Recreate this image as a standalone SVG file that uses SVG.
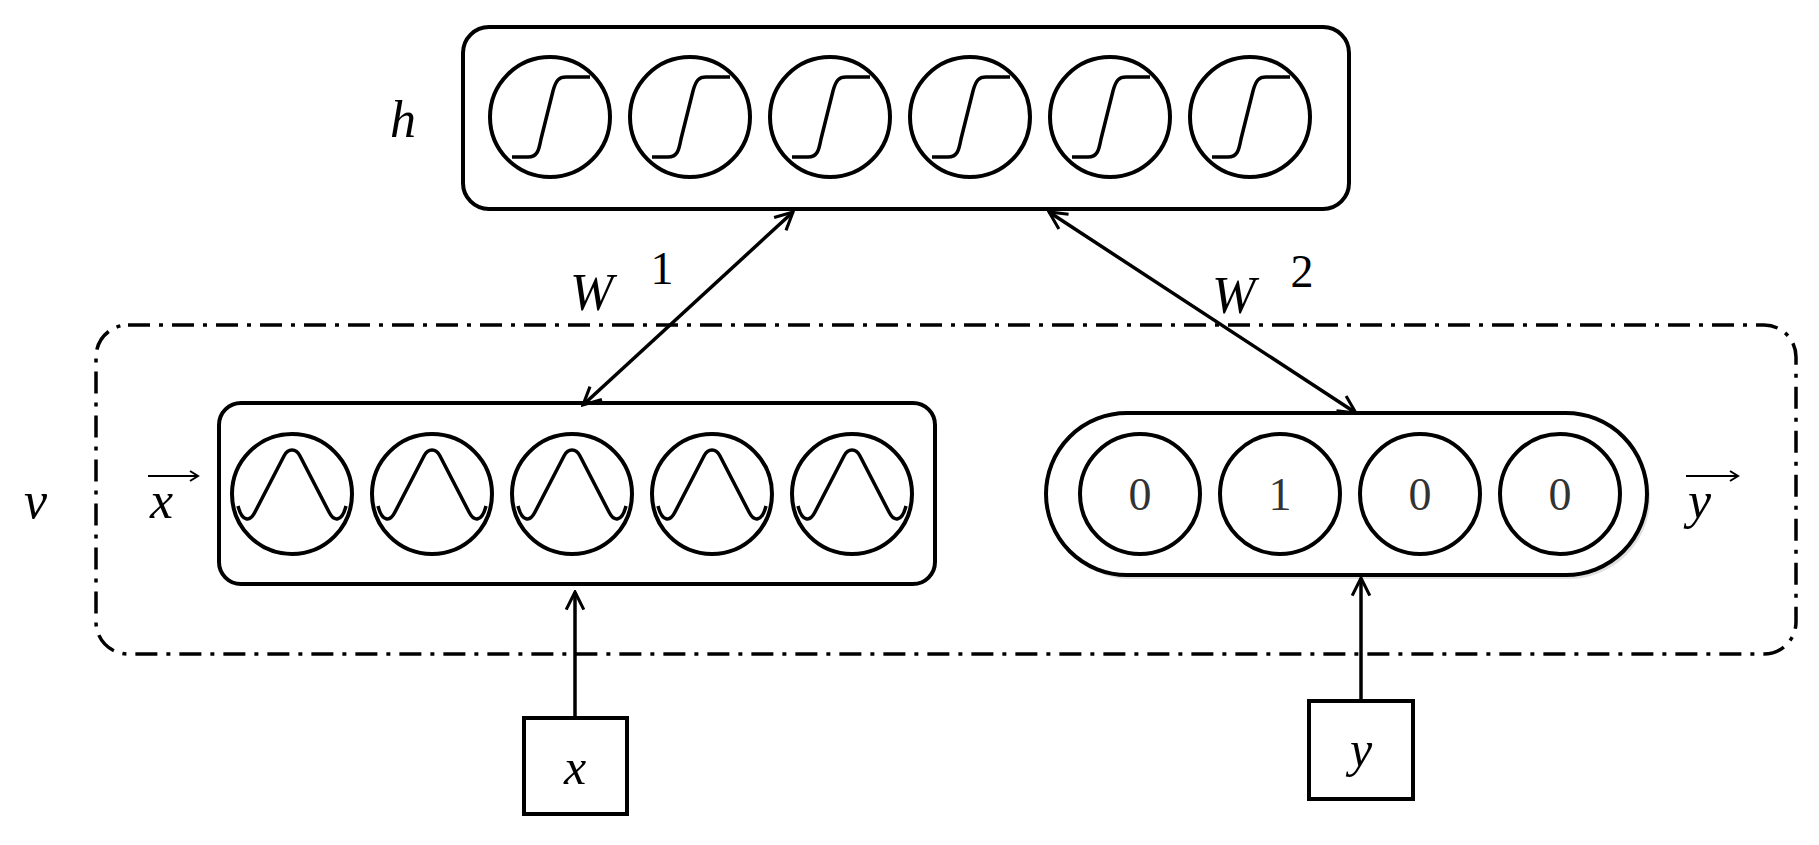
<svg xmlns="http://www.w3.org/2000/svg" width="1819" height="845" viewBox="0 0 1819 845">
<style>
.box{fill:#fff;stroke:#000;stroke-width:4}
.c{fill:none;stroke:#000;stroke-width:4}
.w{fill:none;stroke:#000;stroke-width:3.5}
.ln{fill:none;stroke:#000;stroke-width:3.5}
.m{font-family:"Liberation Serif",serif;font-style:italic;fill:#000}
.n{font-family:"Liberation Serif",serif;fill:#333;font-size:46px;text-anchor:middle}
</style>
<defs>
<marker id="ah" viewBox="0 0 20 20" refX="18" refY="10" markerWidth="22" markerHeight="22" markerUnits="userSpaceOnUse" orient="auto-start-reverse">
<path d="M2,2 L18,10 L2,18" fill="none" stroke="#000" stroke-width="2.8"/>
</marker>
<g id="sig"><circle r="60" class="c"/><path class="w" d="M-38,40 H-22 C-12,40 -11,32 -9,22 L3,-26 C6,-37 9,-40 16,-40 H40"/></g>
<g id="gau"><circle r="60" class="c"/><path class="w" d="M-54,12 C-50,28 -42,28 -37,18 L-8,-38 C-4,-46 4,-46 8,-38 L37,18 C42,28 50,28 54,12"/></g>
</defs>
<g id="visible">
<rect x="96" y="325" width="1700" height="329" rx="32" fill="none" stroke="#000" stroke-width="3.5" stroke-dasharray="22,9,4,9"/>
</g>
<g id="hidden">
<rect class="box" x="463" y="27" width="886" height="182" rx="26"/>
<use href="#sig" x="550" y="117"/><use href="#sig" x="690" y="117"/><use href="#sig" x="830" y="117"/>
<use href="#sig" x="970" y="117"/><use href="#sig" x="1110" y="117"/><use href="#sig" x="1250" y="117"/>
</g>
<g id="xvec">
<rect class="box" x="219" y="403" width="716" height="181" rx="22"/>
<use href="#gau" x="292" y="494"/><use href="#gau" x="432" y="494"/><use href="#gau" x="572" y="494"/>
<use href="#gau" x="712" y="494"/><use href="#gau" x="852" y="494"/>
</g>
<g id="yvec">
<rect x="1049" y="417" width="601" height="162" rx="81" fill="#000" opacity="0.12"/>
<rect class="box" x="1046" y="413" width="601" height="162" rx="81" stroke-width="5"/>
<circle class="c" cx="1140" cy="494" r="60"/><circle class="c" cx="1280" cy="494" r="60"/>
<circle class="c" cx="1420" cy="494" r="60"/><circle class="c" cx="1560" cy="494" r="60"/>
<text class="n" x="1140" y="510">0</text><text class="n" x="1280" y="510">1</text>
<text class="n" x="1420" y="510">0</text><text class="n" x="1560" y="510">0</text>
</g>
<g id="xin"><rect class="box" x="524" y="718" width="103" height="96"/><text class="m" x="575" y="784" font-size="50" text-anchor="middle">x</text></g>
<g id="yin"><rect class="box" x="1309" y="701" width="104" height="98"/><text class="m" x="1361" y="766" font-size="50" text-anchor="middle">y</text></g>
<g id="connectors">
<line class="ln" x1="793" y1="212" x2="583" y2="405" marker-start="url(#ah)" marker-end="url(#ah)"/>
<line class="ln" x1="1049" y1="212" x2="1356" y2="413" marker-start="url(#ah)" marker-end="url(#ah)"/>
<line class="ln" x1="575" y1="718" x2="575" y2="592" marker-end="url(#ah)"/>
<line class="ln" x1="1361" y1="701" x2="1361" y2="578" marker-end="url(#ah)"/>
</g>
<g id="labels">
<text class="m" x="390" y="137" font-size="52">h</text>
<text class="m" x="24" y="518" font-size="52">v</text>
<text class="m" x="150" y="518" font-size="52">x</text>
<path d="M148,476 H198 M190,471 L198,476 L190,481" fill="none" stroke="#000" stroke-width="2"/>
<text class="m" x="1688" y="518" font-size="52">y</text>
<path d="M1686,476 H1738 M1730,471 L1738,476 L1730,481" fill="none" stroke="#000" stroke-width="2"/>
<text class="m" x="570" y="310" font-size="52">W</text>
<text class="n" x="662" y="284" style="fill:#000">1</text>
<text class="m" x="1212" y="313" font-size="52">W</text>
<text class="n" x="1302" y="287" style="fill:#000">2</text>
</g>
</svg>
